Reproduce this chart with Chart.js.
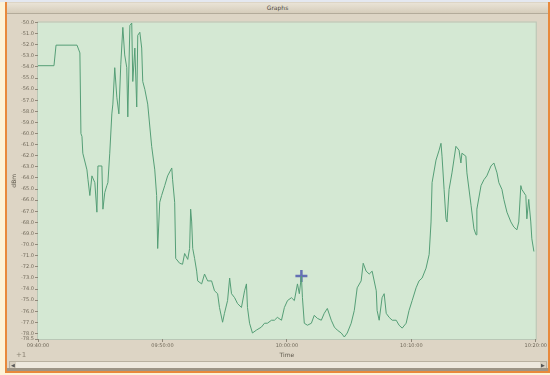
<!DOCTYPE html>
<html>
<head>
<meta charset="utf-8">
<script src="https://cdn.jsdelivr.net/npm/chart.js@4/dist/chart.umd.min.js"></script>
<style>
  html, body { margin: 0; padding: 0; }
  body { width: 550px; height: 375px; position: relative; overflow: hidden; background: #fdf3d8; font-family: "DejaVu Sans", sans-serif; }
  #topstrip { position: absolute; left: 0; top: 0; width: 550px; height: 2px; background: #e4e8f0; }
  #frame { position: absolute; left: 5px; top: 2px; width: 541px; height: 369px; background: #ddd5c5; border-left: 2px solid #e8893c; border-right: 2px solid #e8893c; border-bottom: 2px solid #e8893c; }
  #titlebar { position: absolute; left: 0; top: 1px; width: 541px; height: 10px; background: linear-gradient(#e9e3d6, #d6cdbb); border-bottom: 1px solid #b3ab9a; font-size: 6px; line-height: 10px; text-align: center; color: #4a463e; }
  #wrap { position: absolute; left: 0; top: 12px; width: 541px; height: 348px; }
  #scroll { position: absolute; left: 2px; top: 359px; width: 536px; height: 6px; background: #eee9de; border: 1px solid #b9b1a0; }
  #scroll .a { position: absolute; top: 0; width: 6px; height: 6px; background: #d8d0c0; font-size: 5px; line-height: 6px; text-align: center; color: #555; }
  #bottombar { position: absolute; left: 0; top: 366px; width: 541px; height: 3px; background: #9d9586; }
  #zoomtag { position: absolute; left: 9px; top: 349px; font-size: 7px; color: #8a8373; }
</style>
</head>
<body>
<div id="topstrip"></div>
<div id="frame">
  <div id="titlebar">Graphs</div>
  <div id="wrap"><canvas id="c" width="541" height="348"></canvas></div>
  <div id="zoomtag">+1</div>
  <div id="scroll"><div class="a" style="left:0">&#9664;</div><div class="a" style="right:0">&#9654;</div></div>
  <div id="bottombar"></div>
</div>
<script>
// Sample times (seconds from start of the log) and signal level readings
const times = [
  0, 77, 87, 188, 197, 202, 207, 212, 216, 236, 241, 250, 260, 274, 284, 289, 308, 313, 322, 332,
  337, 346, 356, 361, 370, 380, 390, 399, 409, 418, 428, 433, 443, 452, 457, 467, 476, 481, 491, 500,
  505, 515, 529, 548, 563, 572, 577, 587, 596, 611, 625, 645, 649, 659, 664, 683, 697, 707, 722, 731,
  736, 741, 746, 755, 765, 770, 789, 803, 818, 837, 851, 866, 875, 890, 899, 914, 924, 933, 948, 962,
  981, 996, 1005, 1010, 1020, 1034, 1053, 1077, 1092, 1106, 1126, 1140, 1154, 1174, 1188, 1203, 1222, 1236, 1251, 1260,
  1270, 1275, 1284, 1299, 1318, 1332, 1347, 1366, 1380, 1395, 1414, 1429, 1443, 1462, 1477, 1491, 1510, 1525, 1539, 1558,
  1568, 1582, 1597, 1611, 1631, 1635, 1645, 1659, 1669, 1679, 1693, 1708, 1727, 1741, 1756, 1775, 1789, 1804, 1823, 1837,
  1852, 1871, 1886, 1895, 1900, 1919, 1934, 1943, 1948, 1958, 1967, 1972, 1982, 1996, 2015, 2030, 2039, 2044, 2063, 2068,
  2088, 2102, 2112, 2116, 2136, 2150, 2164, 2184, 2198, 2213, 2222, 2237, 2246, 2261, 2280, 2294, 2309, 2318, 2328, 2333,
  2352, 2357, 2366, 2376, 2381, 2391
];
const levels = [
  -53.89, -53.89, -52.04, -52.04, -52.48, -52.74, -60.00, -60.27, -61.77, -63.27, -64.16, -65.58, -63.81, -64.42, -67.08, -62.92, -62.92, -66.81, -65.31, -64.69,
  -64.42, -61.77, -58.23, -57.35, -54.07, -56.73, -58.23, -53.81, -50.44, -52.92, -54.07, -58.50, -50.27, -50.05, -55.31, -52.30, -57.61, -51.15, -50.88, -52.30,
  -55.31, -56.02, -57.35, -61.15, -63.27, -65.58, -70.35, -66.19, -65.58, -64.69, -63.81, -63.10, -64.16, -66.19, -71.24, -71.68, -71.77, -70.80, -71.33, -70.35,
  -66.81, -67.96, -70.35, -71.24, -72.39, -73.27, -73.54, -72.65, -73.27, -73.27, -74.16, -74.42, -75.66, -76.99, -76.19, -75.04, -73.01, -74.42, -74.78, -75.31,
  -75.66, -74.16, -73.54, -75.66, -77.08, -77.96, -77.70, -77.43, -77.08, -77.08, -76.81, -76.81, -76.55, -76.81, -75.66, -75.04, -74.78, -75.04, -73.54, -74.42,
  -72.83, -74.78, -77.08, -77.26, -77.08, -76.37, -76.64, -76.81, -76.19, -75.75, -76.81, -77.43, -77.70, -77.96, -78.32, -77.96, -77.08, -75.93, -73.89, -73.27,
  -71.68, -72.39, -72.65, -72.39, -74.16, -75.93, -76.81, -74.78, -74.42, -76.19, -76.55, -76.81, -76.81, -77.26, -77.52, -77.08, -75.93, -75.04, -73.89, -73.27,
  -73.01, -72.12, -70.88, -67.96, -64.42, -62.39, -61.50, -60.88, -62.04, -65.04, -67.68, -67.96, -65.04, -63.54, -61.15, -61.50, -62.65, -61.77, -62.04, -63.54,
  -66.46, -68.58, -69.12, -66.81, -64.69, -64.16, -63.81, -62.92, -62.65, -63.54, -64.42, -65.04, -65.93, -67.08, -67.96, -68.41, -68.67, -67.96, -64.69, -65.04,
  -65.58, -67.68, -65.93, -67.96, -69.47, -70.62
];
// Marked reading (cursor)
const cursorTime = [1270];
const cursorLevel = [-72.83];

// Axis ticks
const yTickValues = [-50, -51, -52, -53, -54, -55, -56, -57, -58, -59, -60, -61, -62, -63, -64,
  -65, -66, -67, -68, -69, -70, -71, -72, -73, -74, -75, -76, -77, -78, -78.5];
const xTickValues = [0, 600, 1200, 1800, 2400];
const xTickLabels = ['09:40:00', '09:50:00', '10:00:00', '10:10:00', '10:20:00'];

const plotBackground = {
  id: 'plotBackground',
  beforeDraw(chart) {
    const { ctx, chartArea: a } = chart;
    ctx.save();
    ctx.fillStyle = '#d4e8d3';
    ctx.fillRect(a.left, a.top, a.right - a.left, a.bottom - a.top);
    ctx.strokeStyle = '#b9c7b6';
    ctx.lineWidth = 1;
    ctx.strokeRect(a.left - 0.5, a.top - 0.5, a.right - a.left + 1, a.bottom - a.top + 1);
    ctx.restore();
  }
};

const tickFont = { family: 'DejaVu Sans', size: 5 };

new Chart(document.getElementById('c'), {
  type: 'line',
  data: {
    datasets: [
      {
        data: times.map((t, i) => ({ x: t, y: levels[i] })),
        borderColor: '#559e76',
        borderWidth: 1,
        pointRadius: 0,
        tension: 0,
        fill: false
      },
      {
        data: cursorTime.map((t, i) => ({ x: t, y: cursorLevel[i] })),
        showLine: false,
        pointStyle: 'cross',
        pointRadius: 6,
        pointBorderWidth: 2.5,
        pointBorderColor: '#6470b4',
        pointBackgroundColor: '#6470b4'
      }
    ]
  },
  options: {
    responsive: false,
    animation: false,
    devicePixelRatio: 1,
    layout: { padding: { left: 0, right: 10, top: 3, bottom: 0 } },
    plugins: { legend: { display: false }, tooltip: { enabled: false } },
    scales: {
      x: {
        type: 'linear',
        min: 0,
        max: 2400,
        afterBuildTicks(scale) { scale.ticks = xTickValues.map(v => ({ value: v })); },
        afterFit(scale) { scale.height = 23; },
        grid: { drawOnChartArea: false, drawTicks: true, tickLength: 3, color: '#8f887a' },
        border: { display: false },
        ticks: {
          font: tickFont,
          color: '#6f6859',
          padding: 1,
          maxRotation: 0,
          autoSkip: false,
          callback: (v) => xTickLabels[xTickValues.indexOf(v)]
        },
        title: { display: true, text: 'Time', font: { family: 'DejaVu Sans', size: 6 }, color: '#5d574b', padding: { top: 0, bottom: 3 } }
      },
      y: {
        type: 'linear',
        min: -78.5,
        max: -50,
        afterBuildTicks(scale) { scale.ticks = yTickValues.map(v => ({ value: v })); },
        afterFit(scale) { scale.width = 31; },
        grid: { drawOnChartArea: false, drawTicks: true, tickLength: 3, color: '#8f887a' },
        border: { display: false },
        ticks: {
          font: tickFont,
          color: '#6f6859',
          padding: 1,
          autoSkip: false,
          callback: (v) => v.toFixed(1)
        },
        title: { display: true, text: 'dBm', font: { family: 'DejaVu Sans', size: 6 }, color: '#5d574b', padding: { top: 4, bottom: 0 } }
      }
    }
  },
  plugins: [plotBackground]
});
</script>
</body>
</html>
